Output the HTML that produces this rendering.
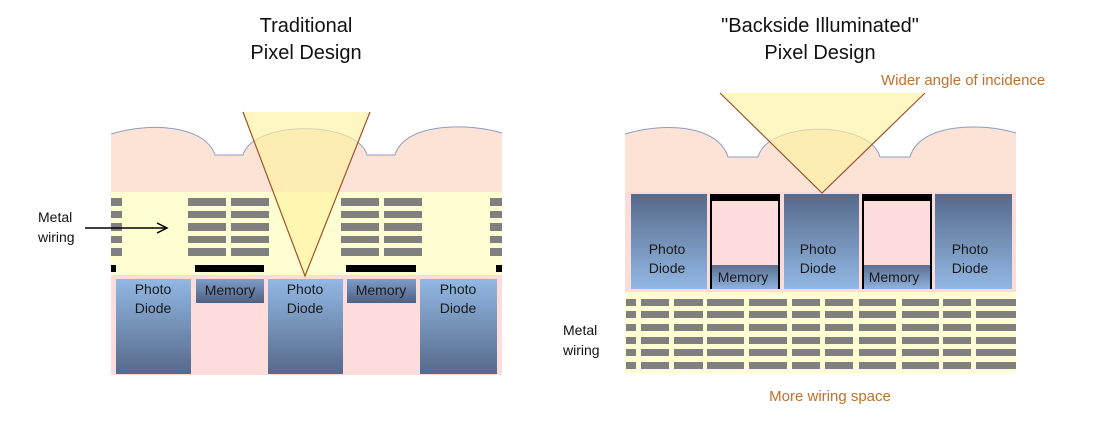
<!DOCTYPE html>
<html><head><meta charset="utf-8"><style>
html,body{margin:0;padding:0;background:#fff;}
svg{display:block;}
text{font-family:"Liberation Sans",sans-serif;}
</style></head><body>
<svg width="1103" height="428" viewBox="0 0 1103 428" xmlns="http://www.w3.org/2000/svg">
<defs>
<linearGradient id="pdA" x1="0" y1="0" x2="0" y2="1"><stop offset="0" stop-color="#92b8e4"/><stop offset="1" stop-color="#56698a"/></linearGradient>
<linearGradient id="pdB" x1="0" y1="0" x2="0" y2="1"><stop offset="0" stop-color="#56698a"/><stop offset="1" stop-color="#92b8e4"/></linearGradient>
<linearGradient id="mem" x1="0" y1="0" x2="0" y2="1"><stop offset="0" stop-color="#7d9ccb"/><stop offset="1" stop-color="#4f6180"/></linearGradient>
<linearGradient id="memB" x1="0" y1="0" x2="0" y2="1"><stop offset="0" stop-color="#5a6f92"/><stop offset="1" stop-color="#8fb2de"/></linearGradient>
<g id="wcol"><rect x="0" y="198" width="38" height="8"/><rect x="0" y="211" width="38" height="7"/><rect x="0" y="223" width="38" height="8"/><rect x="0" y="236" width="38" height="7"/><rect x="0" y="248" width="38" height="8"/></g>
<g id="rrow">
<rect x="626" y="0" width="10" height="7"/><rect x="641" y="0" width="28" height="7"/><rect x="674" y="0" width="29" height="7"/><rect x="707" y="0" width="37" height="7"/><rect x="749" y="0" width="38" height="7"/><rect x="792" y="0" width="28" height="7"/><rect x="825" y="0" width="28" height="7"/><rect x="859" y="0" width="37" height="7"/><rect x="902" y="0" width="37" height="7"/><rect x="943" y="0" width="28" height="7"/><rect x="976" y="0" width="40" height="7"/>
</g>
</defs>
<g font-size="20" fill="#111" text-anchor="middle">
<text x="306" y="32">Traditional</text><text x="306" y="59">Pixel Design</text>
<text x="820" y="32">"Backside Illuminated"</text><text x="820" y="59">Pixel Design</text>
</g>
<!-- LEFT -->
<rect x="111" y="275" width="391" height="100" fill="#fddcdc"/>
<rect x="111" y="192" width="391" height="83" fill="#fefed2"/>
<path d="M111,192 L111,134 C150,122 205,125 215,155 L243,155 C253,120 357,120 367,155 L395,155 C405,122 470,123 502,133 L502,192 Z" fill="#fce3d6"/>
<path d="M111,134 C150,122 205,125 215,155 L243,155 C253,120 357,120 367,155 L395,155 C405,122 470,123 502,133" fill="none" stroke="#8d9cc4" stroke-width="1"/>
<g fill="#808080">
<rect x="111" y="198" width="11" height="8"/><rect x="111" y="211" width="11" height="7"/><rect x="111" y="223" width="11" height="8"/><rect x="111" y="236" width="11" height="7"/><rect x="111" y="248" width="11" height="8"/>
<rect x="490" y="198" width="12" height="8"/><rect x="490" y="211" width="12" height="7"/><rect x="490" y="223" width="12" height="8"/><rect x="490" y="236" width="12" height="7"/><rect x="490" y="248" width="12" height="8"/>
<use href="#wcol" x="188"/><use href="#wcol" x="231"/><use href="#wcol" x="341"/><use href="#wcol" x="384"/>
</g>
<g fill="#000">
<rect x="111" y="265" width="5" height="7"/><rect x="195" y="265" width="69" height="7"/><rect x="346" y="265" width="70" height="7"/><rect x="496" y="265" width="6" height="7"/>
</g>
<rect x="116" y="279" width="75" height="95" fill="url(#pdA)"/>
<rect x="268" y="279" width="75" height="95" fill="url(#pdA)"/>
<rect x="420" y="279" width="77" height="95" fill="url(#pdA)"/>
<rect x="196" y="279" width="68" height="24" fill="url(#mem)"/>
<rect x="347" y="279" width="69" height="24" fill="url(#mem)"/>
<polygon points="243,112 370,112 305,276" fill="#fff3a0" fill-opacity="0.65"/>
<polyline points="243,112 305,276 370,112" fill="none" stroke="#a0522d" stroke-width="1.2"/>
<g font-size="14" fill="#1a1a1a" text-anchor="middle">
<text x="153" y="294">Photo</text><text x="153" y="313">Diode</text>
<text x="305" y="294">Photo</text><text x="305" y="313">Diode</text>
<text x="458" y="294">Photo</text><text x="458" y="313">Diode</text>
<text x="230" y="295">Memory</text><text x="381" y="295">Memory</text>
</g>
<g font-size="14" fill="#111"><text x="38" y="222">Metal</text><text x="38" y="242">wiring</text></g>
<line x1="85" y1="228" x2="166" y2="228" stroke="#000" stroke-width="1.5"/>
<polyline points="157,223 167,228 157,233" fill="none" stroke="#000" stroke-width="1.5"/>
<!-- RIGHT -->
<rect x="625" y="292" width="391" height="81" fill="#fefed2"/>
<path d="M625,292 L625,134 C665,122 718,125 728,157 L758,157 C768,120 870,120 880,157 L910,157 C920,122 985,123 1016,133 L1016,292 Z" fill="#fce3d6"/>
<path d="M625,134 C665,122 718,125 728,157 L758,157 C768,120 870,120 880,157 L910,157 C920,122 985,123 1016,133" fill="none" stroke="#8d9cc4" stroke-width="1"/>
<rect x="625" y="192" width="391" height="100" fill="#fbdcd8"/>
<rect x="631" y="194" width="76" height="95" fill="url(#pdB)"/>
<rect x="784" y="194" width="75" height="95" fill="url(#pdB)"/>
<rect x="935" y="194" width="77" height="95" fill="url(#pdB)"/>
<rect x="710" y="194" width="70" height="95" fill="#fddcdc"/>
<rect x="710" y="265" width="70" height="24" fill="url(#memB)"/>
<rect x="862" y="194" width="70" height="95" fill="#fddcdc"/>
<rect x="862" y="265" width="70" height="24" fill="url(#memB)"/>
<g fill="#000">
<rect x="710" y="194" width="70" height="7"/><rect x="710" y="194" width="2" height="95"/><rect x="778" y="194" width="2" height="95"/>
<rect x="862" y="194" width="70" height="7"/><rect x="862" y="194" width="2" height="95"/><rect x="930" y="194" width="2" height="95"/>
</g>
<g fill="#808080">
<use href="#rrow" y="299"/><use href="#rrow" y="311"/><use href="#rrow" y="324"/><use href="#rrow" y="337"/><use href="#rrow" y="349"/><use href="#rrow" y="362"/>
</g>
<polygon points="720,93 925,93 822,193" fill="#fff3a0" fill-opacity="0.65"/>
<polyline points="720,93 822,193 925,93" fill="none" stroke="#a0522d" stroke-width="1.2"/>
<g font-size="14" fill="#1a1a1a" text-anchor="middle">
<text x="667" y="254">Photo</text><text x="667" y="273">Diode</text>
<text x="818" y="254">Photo</text><text x="818" y="273">Diode</text>
<text x="970" y="254">Photo</text><text x="970" y="273">Diode</text>
<text x="743" y="282">Memory</text><text x="894" y="282">Memory</text>
</g>
<g font-size="14" fill="#111"><text x="563" y="335">Metal</text><text x="563" y="355">wiring</text></g>
<g font-size="15" fill="#c0702a">
<text x="881" y="85">Wider angle of incidence</text>
<text x="830" y="401" text-anchor="middle">More wiring space</text>
</g>
</svg>
</body></html>
